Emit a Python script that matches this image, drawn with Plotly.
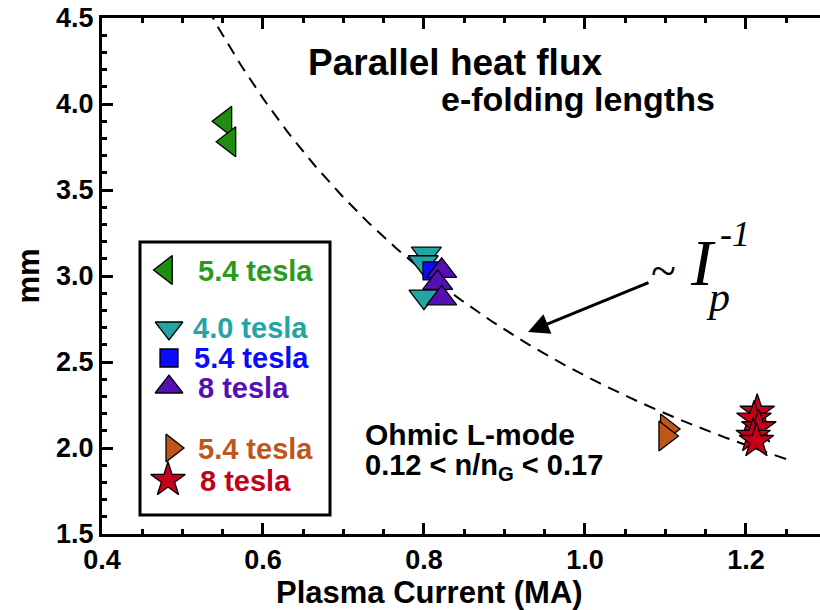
import numpy as np
import plotly.graph_objects as go

# ---------------- data ----------------
green_x = [0.553, 0.558]
green_y = [3.90, 3.78]
teal_x = [0.803, 0.799, 0.800]
teal_y = [3.13, 3.08, 2.88]
blue_x = [0.810]
blue_y = [3.03]
purple_x = [0.822, 0.817, 0.822]
purple_y = [3.03, 2.96, 2.87]
orange_x = [1.102, 1.100]
orange_y = [2.11, 2.07]
red_x = [1.214, 1.210, 1.216, 1.209, 1.213]
red_y = [2.21, 2.17, 2.12, 2.07, 2.04]
fit_coef = 2.42          # ~ Ip^-1 fit coefficient (mm*MA)
fit_x_range = [0.52, 1.25]

legend_labels = ["5.4 tesla", "4.0 tesla", "5.4 tesla", "8 tesla", "5.4 tesla", "8 tesla"]
x_ticks = [0.4, 0.6, 0.8, 1.0, 1.2]
y_ticks = [1.5, 2.0, 2.5, 3.0, 3.5, 4.0, 4.5]

# ---------------- styles ----------------
W, H = 820, 610
L, R, T, B = 102, 0, 18, 76
XR = [0.4, 1.292]
YR = [1.5, 4.5]
C_GREEN, C_GREEN_T = "#1f8c12", "#2a9a1c"
C_TEAL = "#24a5a5"
C_BLUE = "#0a0aff"
C_PURPLE = "#5510b5"
C_ORANGE = "#c0561a"
C_RED = "#c4001a"
SANS = "Liberation Sans"
SERIF = "Liberation Serif"


def px2x(px):
    return XR[0] + (px - L) / (W - L - R) * (XR[1] - XR[0])


def px2y(py):
    return YR[1] - (py - T) / (H - T - B) * (YR[1] - YR[0])


fig = go.Figure()

# fit curve
xs = np.linspace(fit_x_range[0], fit_x_range[1], 200)
fig.add_trace(go.Scatter(x=xs, y=fit_coef / xs, mode="lines",
                         line=dict(color="black", width=2, dash="12px,8px"),
                         hoverinfo="skip"))

mline = dict(color="black", width=1.3)


def pts(x, y, sym, color, size):
    fig.add_trace(go.Scatter(x=x, y=y, mode="markers",
                             marker=dict(symbol=sym, color=color, size=size, line=mline)))


pts(green_x, green_y, "triangle-left", C_GREEN, 26)
pts(teal_x, teal_y, "triangle-down", C_TEAL, 26)
pts(blue_x, blue_y, "square", C_BLUE, 18)
pts(purple_x, purple_y, "triangle-up", C_PURPLE, 26)
pts(orange_x, orange_y, "triangle-right", C_ORANGE, 26)
pts(red_x, red_y, "star", C_RED, 26)

# legend box
fig.add_shape(type="rect", xref="x", yref="y",
              x0=px2x(140), x1=px2x(330), y0=px2y(515), y1=px2y(242),
              line=dict(color="black", width=3), fillcolor="white", layer="below")

leg_syms = ["triangle-left", "triangle-down", "square", "triangle-up", "triangle-right", "star"]
leg_cols = [C_GREEN, C_TEAL, C_BLUE, C_PURPLE, C_ORANGE, C_RED]
leg_txtcols = [C_GREEN_T, C_TEAL, C_BLUE, C_PURPLE, C_ORANGE, C_RED]
leg_mx = [166, 169, 169, 169, 172, 168]
leg_my = [270, 328, 358, 387, 448, 480]
leg_sizes = [25, 24, 18, 24, 24, 26]
leg_tx = [196, 191, 192, 196, 196, 198]
leg_ty = [271, 328, 358, 388, 449, 481]
for s, c, tc, mx, my, sz, tx, ty, lab in zip(leg_syms, leg_cols, leg_txtcols, leg_mx, leg_my,
                                             leg_sizes, leg_tx, leg_ty, legend_labels):
    fig.add_trace(go.Scatter(x=[px2x(mx)], y=[px2y(my)], mode="markers",
                             marker=dict(symbol=s, color=c, size=sz, line=mline)))
    fig.add_annotation(x=px2x(tx), y=px2y(ty), xref="x", yref="y", text=lab,
                       showarrow=False, xanchor="left", yanchor="middle",
                       font=dict(family=SANS, size=29, color=tc, weight="bold"))


# text annotations
def txt(px, py, text, size, family=SANS, bold=True, xanchor="center", italic=False):
    fig.add_annotation(x=px2x(px), y=px2y(py), xref="x", yref="y", text=text,
                       showarrow=False, xanchor=xanchor, yanchor="middle",
                       font=dict(family=family, size=size, color="black",
                                 weight="bold" if bold else "normal",
                                 style="italic" if italic else "normal"))


txt(455, 62, "Parallel heat flux", 37)
txt(578, 99, "e-folding lengths", 34)
txt(363, 434, "Ohmic L-mode", 30, xanchor="left")
txt(363, 467, "0.12 &lt; n/n<sub>G</sub> &lt; 0.17", 29, xanchor="left")

# ~ I_p^-1
txt(663, 270, "~", 46, family=SERIF, bold=False)
txt(703, 262, "I", 66, family=SERIF, bold=False, italic=True)
txt(718, 297, "p", 42, family=SERIF, bold=False, italic=True)
txt(735, 234, "-1", 36, family=SERIF, bold=False, italic=True)

# arrow
fig.add_annotation(x=px2x(528), y=px2y(332), ax=px2x(650), ay=px2y(282),
                   xref="x", yref="y", axref="x", ayref="y", text="",
                   showarrow=True, arrowhead=2, arrowsize=1.4, arrowwidth=3,
                   arrowcolor="black")

# x-axis title (centred left of plot centre, as in the reference)
fig.add_annotation(x=px2x(429), y=(H - B - 592) / (H - T - B), xref="x", yref="paper",
                   yanchor="middle", text="Plasma Current (MA)", showarrow=False,
                   font=dict(family=SANS, size=31, color="black", weight="bold"))

tickfont = dict(family=SANS, size=27, color="black", weight="bold")
fig.update_xaxes(range=XR, tickvals=x_ticks, ticktext=[f"{v:.1f}" for v in x_ticks],
                 showline=True, linecolor="black", linewidth=3, mirror="ticks",
                 ticks="inside", ticklen=11, tickwidth=3, tickcolor="black",
                 minor=dict(dtick=0.05, tick0=0.4, ticks="inside", ticklen=5, tickwidth=3,
                            tickcolor="black"),
                 showgrid=False, zeroline=False, tickfont=tickfont)
fig.update_yaxes(range=YR, tickvals=y_ticks, ticktext=[f"{v:.1f}" for v in y_ticks],
                 showline=True, linecolor="black", linewidth=3, mirror=False,
                 ticks="inside", ticklen=11, tickwidth=3, tickcolor="black",
                 minor=dict(dtick=0.1, tick0=1.5, ticks="inside", ticklen=5, tickwidth=3,
                            tickcolor="black"),
                 showgrid=False, zeroline=False, tickfont=tickfont,
                 title=dict(text="mm", standoff=8,
                            font=dict(family=SANS, size=31, color="black", weight="bold")))

fig.update_layout(width=W, height=H, margin=dict(l=L, r=R, t=T, b=B),
                  plot_bgcolor="white", paper_bgcolor="white", showlegend=False)

fig.write_html("out.html")
